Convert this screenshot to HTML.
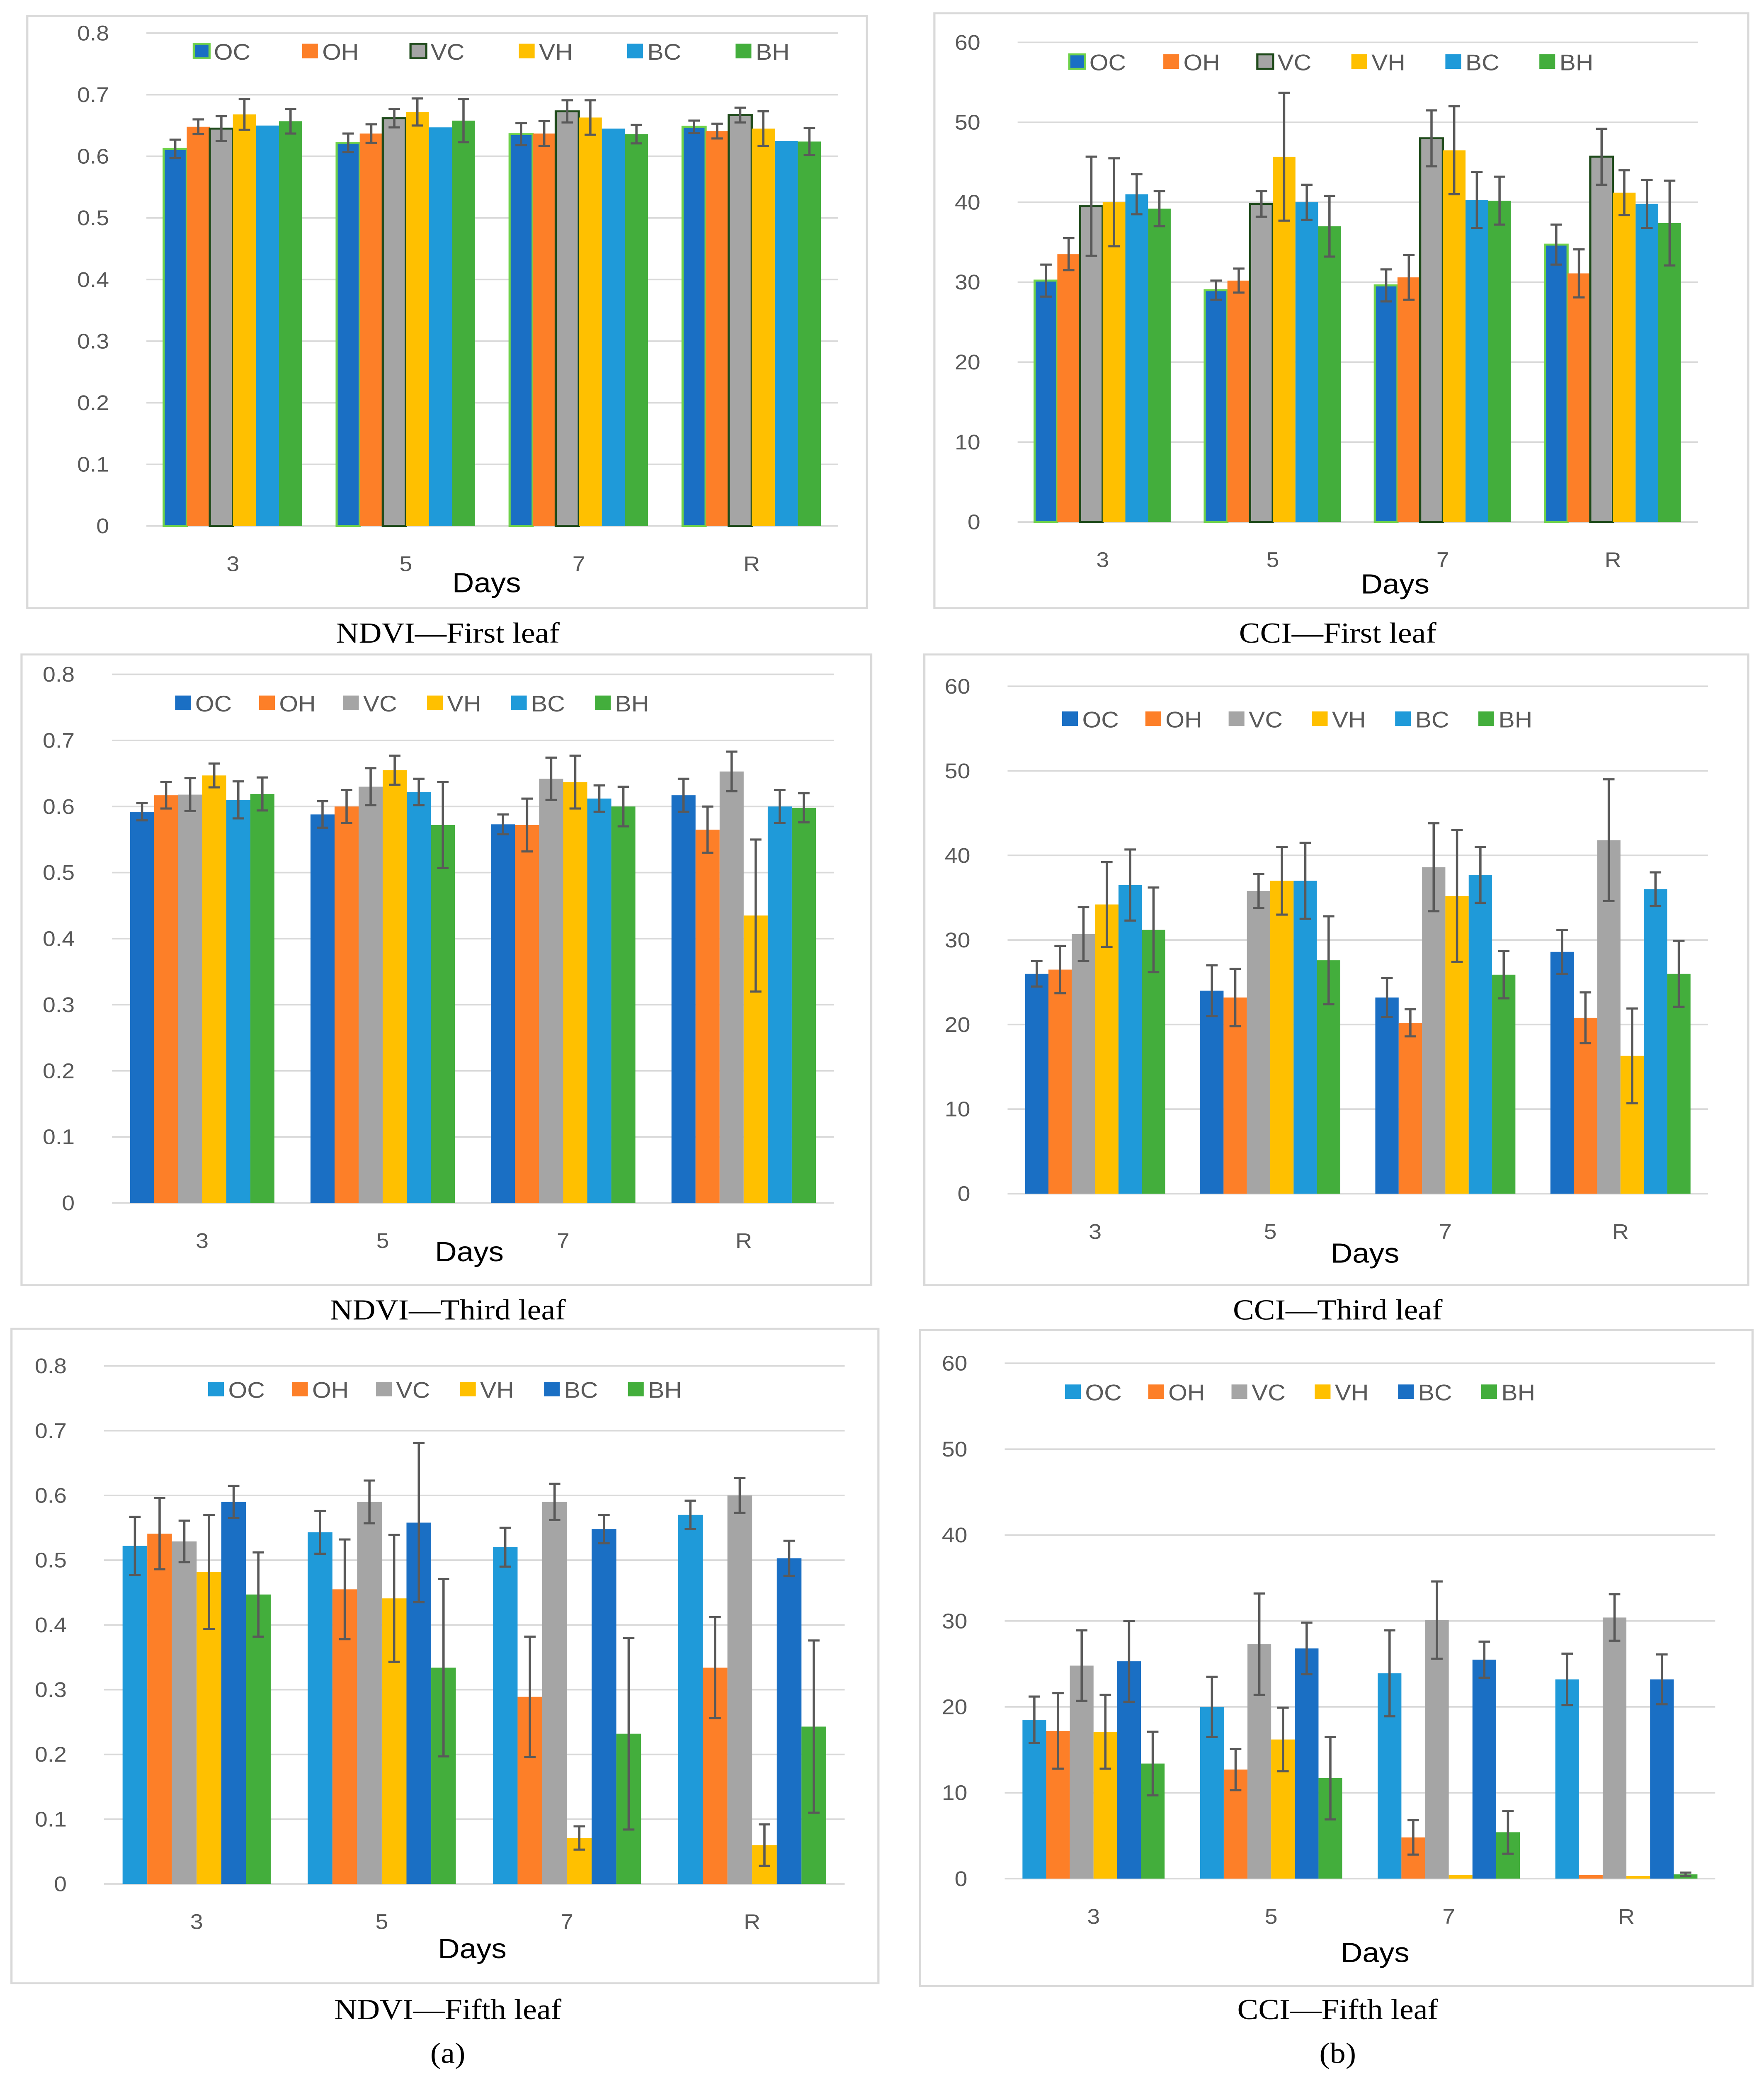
<!DOCTYPE html>
<html><head><meta charset="utf-8"><style>
html,body{margin:0;padding:0;background:#fff;width:100vw;height:100vh;overflow:hidden}
svg{display:block;position:absolute;left:0;top:0;width:100vw;height:100vh}
text{font-family:"Liberation Sans",sans-serif}
</style></head><body>
<svg id="fig" viewBox="0 0 1229 1564.7" preserveAspectRatio="none" xmlns="http://www.w3.org/2000/svg"></svg>
<script>
const NS="http://www.w3.org/2000/svg";
const categories=["3","5","7","R"];
const seriesNames=["OC","OH","VC","VH","BC","BH"];
// NDVI first leaf
const p1Vals=[[.612,.622,.636,.648],[.648,.637,.637,.641],[.645,.662,.673,.667],[.668,.672,.663,.645],[.65,.647,.645,.625],[.657,.658,.636,.624]];
const p1Errs=[[.015,.015,.018,.01],[.012,.015,.02,.012],[.02,.015,.018,.012],[.025,.022,.028,.028],[0,0,0,0],[.02,.035,.015,.022]];
// CCI first leaf
const p2Vals=[[30.2,29,29.6,34.7],[33.5,30.2,30.6,31.1],[39.5,39.8,48,45.7],[40,45.7,46.5,41.2],[41,40,40.3,39.8],[39.2,37,40.2,37.4]];
const p2Errs=[[2,1.2,2,2.5],[2,1.5,2.8,3],[6.2,1.6,3.5,3.5],[5.5,8,5.5,2.8],[2.5,2.2,3.5,3],[2.2,3.8,3,5.3]];
// NDVI third leaf
const p3Vals=[[.592,.588,.573,.617],[.617,.6,.572,.565],[.618,.63,.642,.653],[.647,.655,.637,.435],[.61,.622,.612,.6],[.619,.572,.6,.598]];
const p3Errs=[[.013,.02,.015,.025],[.02,.025,.04,.035],[.025,.028,.032,.03],[.018,.022,.04,.115],[.028,.02,.02,.025],[.025,.065,.03,.022]];
// CCI third leaf
const p4Vals=[[26,24,23.2,28.6],[26.5,23.2,20.2,20.8],[30.7,35.8,38.6,41.8],[34.2,37,35.2,16.3],[36.5,37,37.7,36],[31.2,27.6,25.9,26]];
const p4Errs=[[1.5,3,2.3,2.6],[2.8,3.4,1.6,3],[3.2,2,5.2,7.2],[5,4,7.8,5.6],[4.2,4.5,3.3,2],[5,5.2,2.8,3.9]];
// NDVI fifth leaf
const p5Vals=[[.522,.543,.52,.57],[.541,.455,.289,.334],[.529,.59,.59,.6],[.482,.441,.071,.06],[.59,.558,.548,.503],[.447,.334,.232,.243]];
const p5Errs=[[.045,.033,.03,.022],[.055,.077,.093,.078],[.032,.033,.028,.027],[.088,.098,.018,.032],[.025,.123,.022,.027],[.065,.137,.148,.133]];
// CCI fifth leaf
const p6Vals=[[18.5,20,23.9,23.2],[17.2,12.7,4.8,0.4],[24.8,27.3,30.1,30.4],[17.1,16.2,0.4,0.3],[25.3,26.8,25.5,23.2],[13.4,11.7,5.4,0.5]];
const p6Errs=[[2.7,3.5,5,3],[4.4,2.4,2,0],[4.1,5.9,4.5,2.7],[4.3,3.7,0,0],[4.7,3,2.1,2.9],[3.7,4.8,2.5,0.2]];
const ndviTicks=["0","0.1","0.2","0.3","0.4","0.5","0.6","0.7","0.8"];
const cciTicks=["0","10","20","30","40","50","60"];

const DARK="#1a6fc4",OR="#fd7f28",GR="#a5a5a5",YE="#ffc000",LB="#1f9ad9",GN="#43ae3c";
const colsA=[DARK,OR,GR,YE,LB,GN], colsB=[LB,OR,GR,YE,DARK,GN];
const SERIF='font-family:"Liberation Serif",serif';
const svg=document.getElementById('fig');
function el(t,a,p){const e=document.createElementNS(NS,t);for(const k in a)e.setAttribute(k,a[k]);(p||svg).appendChild(e);return e;}
function txt(s,a,p){const e=el('text',a,p);e.textContent=s;return e;}

function panel(cfg){
  const g=el('g',{});
  
  
  const fr=el('rect',{x:cfg.box[0],y:cfg.box[1],width:cfg.box[2]-cfg.box[0],height:cfg.box[3]-cfg.box[1],fill:'#fff',stroke:'#d9d9d9','stroke-width':1.5},g);
  
  const ticks=cfg.ticks, maxV=parseFloat(ticks[ticks.length-1]);
  const y=v=>cfg.y0-(v/maxV)*(cfg.y0-cfg.yTop);
  const step=(cfg.right-cfg.left)/categories.length;
  const cx=i=>cfg.left+step*(i+0.5);
  ticks.forEach(t=>{
    const v=parseFloat(t),yy=y(v);
    const gl=el('line',{x1:cfg.left,x2:cfg.right,y1:yy,y2:yy,stroke:'#d9d9d9','stroke-width':1.2},g);
    
    const tl=txt(t,{x:cfg.left-26,y:yy+5.5,'text-anchor':'end','font-size':16,fill:'#595959'},g);
    
  });
  const bw=step*0.8/6;
  cfg.vals.forEach((ser,s)=>{
    ser.forEach((v,i)=>{
      const x=cx(i)-step*0.4+s*bw;
      const a={x:x,y:y(v),width:bw,height:y(0)-y(v),fill:cfg.cols[s]};
      if(cfg.outline&&s===0){a.stroke='#6fd24a';a['stroke-width']=1.5;}
      if(cfg.outline&&s===2){a.stroke='#1e4a1a';a['stroke-width']=1.5;}
      const r=el('rect',a,g);
      
      
    });
  });
  cfg.vals.forEach((ser,s)=>{
    ser.forEach((v,i)=>{
      const e=cfg.errs[s][i]; if(!e) return;
      const xm=cx(i)-step*0.4+s*bw+bw/2;
      const eb=el('path',{d:`M${xm} ${y(v+e)}V${y(v-e)}M${xm-4} ${y(v+e)}h8M${xm-4} ${y(v-e)}h8`,stroke:'#595959','stroke-width':1.6,fill:'none'},g);
      
    });
  });
  categories.forEach((c,i)=>{
    const t=txt(c,{x:cx(i),y:cfg.y0+34,'text-anchor':'middle','font-size':16,fill:'#595959'},g);
    
  });
  const d=txt('Days',{x:cfg.days[0],y:cfg.days[1],'text-anchor':'middle','font-size':21,fill:'#000'},g);
  
  seriesNames.forEach((n,s)=>{
    const lx=cfg.leg[0]+s*cfg.leg[2], ly=cfg.leg[1];
    const lg=el('g',{},g);
    
    
    const a={x:lx,y:ly-6,width:11,height:11,fill:cfg.cols[s]};
    if(cfg.outline&&s===0){a.stroke='#6fd24a';a['stroke-width']=1.5;}
    if(cfg.outline&&s===2){a.stroke='#1e4a1a';a['stroke-width']=1.5;}
    el('rect',a,lg);
    txt(n,{x:lx+14,y:ly+6,'font-size':17,fill:'#595959'},lg);
  });
  const cap=txt(cfg.caption,{x:cfg.cap[0],y:cfg.cap[1],'text-anchor':'middle','font-size':22,fill:'#000',style:SERIF},g);
  
}
panel({name:'ndvi-first-leaf-chart',box:[19,12,604,459],ticks:ndviTicks,y0:397,yTop:25,left:102,right:584,vals:p1Vals,errs:p1Errs,cols:colsA,outline:true,leg:[135,39,75.5],days:[339,447],caption:'NDVI\u2014First leaf',cap:[312,485]});
panel({name:'cci-first-leaf-chart',box:[651,10,1218,459],ticks:cciTicks,y0:394,yTop:32,left:709,right:1183,vals:p2Vals,errs:p2Errs,cols:colsA,outline:true,leg:[745,47,65.5],days:[972,448],caption:'CCI\u2014First leaf',cap:[932,485]});
panel({name:'ndvi-third-leaf-chart',box:[15,494,607,970],ticks:ndviTicks,y0:908,yTop:509,left:78,right:581,vals:p3Vals,errs:p3Errs,cols:colsA,outline:false,leg:[122,531,58.5],days:[327,952],caption:'NDVI\u2014Third leaf',cap:[312,996]});
panel({name:'cci-third-leaf-chart',box:[644,494,1218,970],ticks:cciTicks,y0:901,yTop:518,left:702,right:1190,vals:p4Vals,errs:p4Errs,cols:colsA,outline:false,leg:[740,543,58],days:[951,953],caption:'CCI\u2014Third leaf',cap:[932,996]});
panel({name:'ndvi-fifth-leaf-chart',box:[8,1003,612,1497],ticks:ndviTicks,y0:1422,yTop:1031,left:72.5,right:588.5,vals:p5Vals,errs:p5Errs,cols:colsB,outline:false,leg:[145,1049,58.5],days:[329,1478],caption:'NDVI\u2014Fifth leaf',cap:[312,1524]});
panel({name:'cci-fifth-leaf-chart',box:[641,1004,1221,1499],ticks:cciTicks,y0:1418,yTop:1029,left:700,right:1195,vals:p6Vals,errs:p6Errs,cols:colsB,outline:false,leg:[742,1051,58],days:[958,1481],caption:'CCI\u2014Fifth leaf',cap:[932,1524]});
const la=txt('(a)',{x:312,y:1557,'text-anchor':'middle','font-size':22,style:SERIF});

const lb=txt('(b)',{x:932,y:1557,'text-anchor':'middle','font-size':22,style:SERIF});

</script>
</body></html>
